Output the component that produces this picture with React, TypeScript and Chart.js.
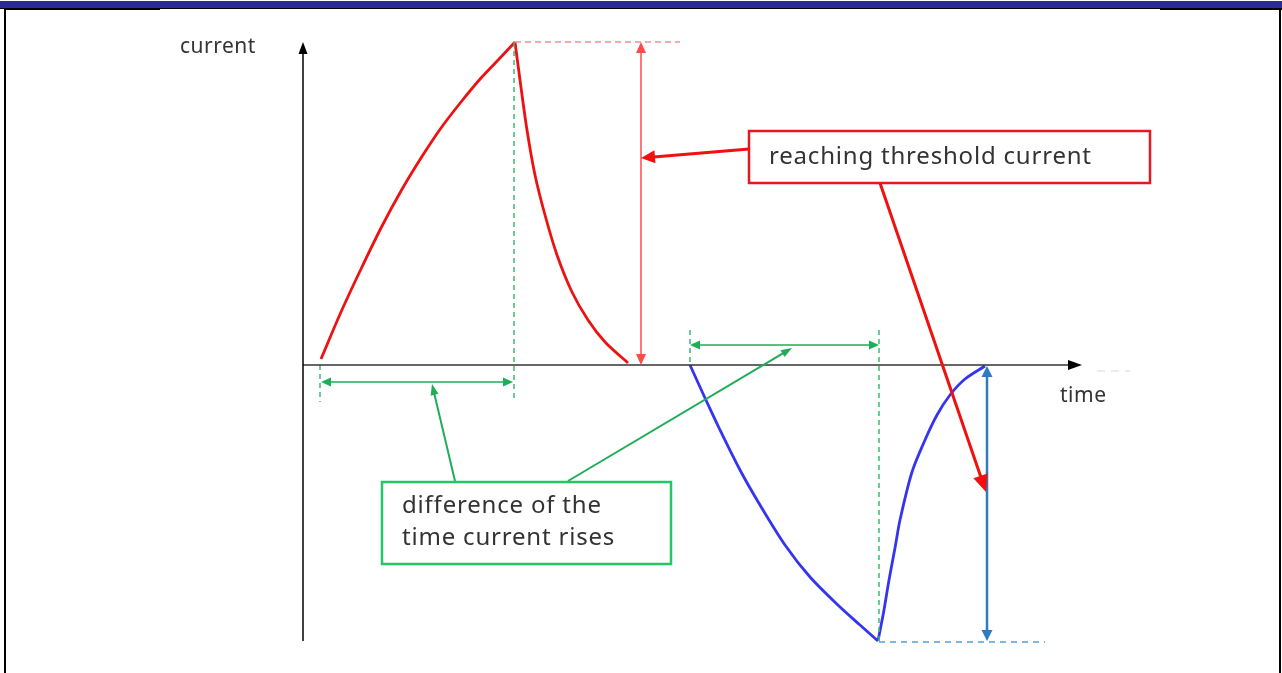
import React, { useEffect, useRef } from "react";
import { Chart, registerables } from "chart.js";
Chart.register(...registerables);

const W = 1282;
const H = 673;

// Coordinate system: t = time (right), c = current (up); origin at the axes crossing.
const T_MIN = -303;
const T_MAX = 979;
const C_MIN = -308;
const C_MAX = 365;

// Red current pulse (rise and decay)
const redRiseT = [18, 38, 58, 78, 98, 118, 138, 158, 178, 198, 212];
const redRiseC = [6, 53, 96, 137, 174, 207, 237, 263, 287, 308, 323];
const redFallT = [212, 217, 224, 232, 242, 254, 269, 285, 302, 325];
const redFallC = [323, 285, 235, 190, 150, 110, 73, 45, 23, 2];

// Blue current pulse (negative)
const blueFallT = [387, 402, 417, 437, 457, 482, 507, 537, 557, 575];
const blueFallC = [0, -33, -65, -105, -140, -180, -212, -242, -260, -276];
const blueRiseT = [575, 581, 586, 592, 597, 609, 622, 634, 647, 662, 682];
const blueRiseC = [-276, -245, -215, -183, -155, -107, -75, -50, -30, -14, -1];

// Axes extents
const axisT = [0, 779];
const axisC = [-276, 323];

// Reference levels
const redPeak = 323;
const blueMin = -277;
const redDashT = [212, 377];
const blueDashT = [576, 742];
const greyDashT = [794, 827];
const greyDashC = -6;

// Green dashed markers: [t, cFrom, cTo]
const greenMarkT = [17, 211, 387, 576];
const greenMarkFrom = [0, 323, 35, 35];
const greenMarkTo = [-37, -37, 0, -276];

// Double-headed measurement arrows
const riseSpanA = [18, 210];
const riseSpanAC = -17;
const riseSpanB = [387, 576];
const riseSpanBC = 20;
const redSpanT = 338;
const redSpanC = [0, 323];
const blueSpanT = 684;
const blueSpanC = [-276, -1];

// Pointer arrows: [t0, c0, t1, c1]
const redPointer1 = [446, 216, 338, 207];
const redPointer2 = [577, 182, 683, -127];
const greenPointer1 = [152, -116, 129, -19];
const greenPointer2 = [265, -116, 489, 17];

// Callout boxes: [tLeft, cTop, tRight, cBottom]
const redBox = [446, 234, 847, 182];
const greenBox = [79, -117, 368, -199];
const redBoxText = ["reaching threshold current"];
const greenBoxText = ["difference of the", "time current rises"];
const redTextPos = [466, 208];
const greenTextPos = [99, -141, -173];

// Axis labels
const yLabel = "current";
const yLabelPos = [-123, 318];
const xLabel = "time";
const xLabelPos = [757, -31];

const FONT = '"Noto Sans", "Open Sans", sans-serif';

function pts(t: number[], c: number[]) {
  return t.map((x, i) => ({ x, y: c[i] }));
}

function head(ctx: CanvasRenderingContext2D, x0: number, y0: number, x1: number, y1: number, len: number, wid: number, color: string) {
  const a = Math.atan2(y1 - y0, x1 - x0);
  const bx = x1 - Math.cos(a) * len;
  const by = y1 - Math.sin(a) * len;
  const nx = -Math.sin(a) * wid / 2;
  const ny = Math.cos(a) * wid / 2;
  ctx.save();
  ctx.fillStyle = color;
  ctx.beginPath();
  ctx.moveTo(x1, y1);
  ctx.lineTo(bx + nx, by + ny);
  ctx.lineTo(bx - nx, by - ny);
  ctx.closePath();
  ctx.fill();
  ctx.restore();
}

function arrow(ctx: CanvasRenderingContext2D, x0: number, y0: number, x1: number, y1: number, color: string, lw: number, len: number, wid: number, both: boolean) {
  const a = Math.atan2(y1 - y0, x1 - x0);
  const sx = both ? x0 + Math.cos(a) * len * 0.7 : x0;
  const sy = both ? y0 + Math.sin(a) * len * 0.7 : y0;
  const ex = x1 - Math.cos(a) * len * 0.7;
  const ey = y1 - Math.sin(a) * len * 0.7;
  ctx.save();
  ctx.strokeStyle = color;
  ctx.lineWidth = lw;
  ctx.beginPath();
  ctx.moveTo(sx, sy);
  ctx.lineTo(ex, ey);
  ctx.stroke();
  ctx.restore();
  head(ctx, x0, y0, x1, y1, len, wid, color);
  if (both) head(ctx, x1, y1, x0, y0, len, wid, color);
}

const framePlugin = {
  id: "frame",
  beforeDraw(chart: any) {
    const ctx = chart.ctx as CanvasRenderingContext2D;
    ctx.save();
    ctx.fillStyle = "#ffffff";
    ctx.fillRect(0, 0, W, H);
    ctx.fillStyle = "#2b2b95";
    ctx.fillRect(0, 1, W, 7);
    ctx.fillStyle = "#000000";
    ctx.fillRect(0, 8, W, 1);
    ctx.fillRect(4, 8, 156, 2);
    ctx.fillRect(1160, 8, 122, 2);
    ctx.fillRect(4, 8, 2, H - 8);
    ctx.fillRect(1279, 8, 2, H - 8);
    ctx.restore();
  },
};

const notesPlugin = {
  id: "notes",
  afterDatasetsDraw(chart: any) {
    const ctx = chart.ctx as CanvasRenderingContext2D;
    const xs = chart.scales.x;
    const ys = chart.scales.y;
    const X = (v: number) => xs.getPixelForValue(v);
    const Y = (v: number) => ys.getPixelForValue(v);

    head(ctx, X(0), Y(axisC[0]), X(0), Y(axisC[1]), 12, 9, "#000");
    head(ctx, X(axisT[0]), Y(0), X(axisT[1]), Y(0), 14, 10, "#000");

    arrow(ctx, X(redSpanT), Y(redSpanC[1]), X(redSpanT), Y(redSpanC[0]), "#ff4a4a", 1.5, 11, 10, true);
    arrow(ctx, X(riseSpanA[0]), Y(riseSpanAC), X(riseSpanA[1]), Y(riseSpanAC), "#1fad58", 1.5, 10, 9, true);
    arrow(ctx, X(riseSpanB[0]), Y(riseSpanBC), X(riseSpanB[1]), Y(riseSpanBC), "#1fad58", 1.5, 10, 9, true);
    arrow(ctx, X(blueSpanT), Y(blueSpanC[0]), X(blueSpanT), Y(blueSpanC[1]), "#2e7bc0", 2.5, 11, 11, true);

    const P = (p: number[], col: string, lw: number, len: number, wid: number) =>
      arrow(ctx, X(p[0]), Y(p[1]), X(p[2]), Y(p[3]), col, lw, len, wid, false);
    P(redPointer1, "#f01010", 3, 14, 13);
    P(redPointer2, "#f01010", 3, 17, 15);
    P(greenPointer1, "#1fad58", 2, 11, 8);
    P(greenPointer2, "#1fad58", 2, 11, 8);

    const box = (b: number[], col: string) => {
      const x0 = X(b[0]), y0 = Y(b[1]), x1 = X(b[2]), y1 = Y(b[3]);
      ctx.save();
      ctx.fillStyle = "#fff";
      ctx.fillRect(x0, y0, x1 - x0, y1 - y0);
      ctx.strokeStyle = col;
      ctx.lineWidth = 2.5;
      ctx.strokeRect(x0, y0, x1 - x0, y1 - y0);
      ctx.restore();
    };
    box(redBox, "#e51820");
    box(greenBox, "#22c866");

    ctx.save();
    ctx.fillStyle = "#333";
    ctx.textBaseline = "middle";
    ctx.textAlign = "left";
    ctx.font = `24px ${FONT}`;
    (ctx as any).letterSpacing = "0.8px";
    ctx.fillText(redBoxText[0], X(redTextPos[0]), Y(redTextPos[1]));
    ctx.fillText(greenBoxText[0], X(greenTextPos[0]), Y(greenTextPos[1]));
    ctx.fillText(greenBoxText[1], X(greenTextPos[0]), Y(greenTextPos[2]));
    ctx.font = `21px ${FONT}`;
    (ctx as any).letterSpacing = "0.5px";
    ctx.fillText(yLabel, X(yLabelPos[0]), Y(yLabelPos[1]));
    ctx.fillText(xLabel, X(xLabelPos[0]), Y(xLabelPos[1]));
    ctx.restore();
  },
};

export default function App() {
  const ref = useRef<HTMLCanvasElement | null>(null);
  useEffect(() => {
    document.body.style.margin = "0";
    const canvas = ref.current;
    if (!canvas) return;
    const curve = (t: number[], c: number[], color: string) => ({
      data: pts(t, c),
      showLine: true,
      borderColor: color,
      borderWidth: 2.8,
      pointRadius: 0,
      tension: 0.3,
      fill: false,
    });
    const seg = (p: { x: number; y: number }[], color: string, lw: number, dash: number[]) => ({
      data: p,
      showLine: true,
      borderColor: color,
      borderWidth: lw,
      borderDash: dash,
      pointRadius: 0,
      tension: 0,
      fill: false,
    });
    const datasets: any[] = [
      seg([{ x: 0, y: axisC[0] }, { x: 0, y: axisC[1] - 8 }], "#000", 1.5, []),
      seg([{ x: axisT[0], y: 0 }, { x: axisT[1] - 8, y: 0 }], "#333", 1.5, []),
      seg([{ x: redDashT[0], y: redPeak }, { x: redDashT[1], y: redPeak }], "#f29090", 1.5, [6, 4]),
      seg([{ x: blueDashT[0], y: blueMin }, { x: blueDashT[1], y: blueMin }], "#5b9bd5", 1.5, [6, 5]),
      seg([{ x: greyDashT[0], y: greyDashC }, { x: greyDashT[1], y: greyDashC }], "#d8d8d8", 1, [8, 6]),
      ...greenMarkT.map((t, i) =>
        seg([{ x: t, y: greenMarkFrom[i] }, { x: t, y: greenMarkTo[i] }], "#3dbb70", 1.5, [5, 4])
      ),
      curve(blueFallT, blueFallC, "#3535f0"),
      curve(blueRiseT, blueRiseC, "#3535f0"),
      curve(redRiseT, redRiseC, "#ee1111"),
      curve(redFallT, redFallC, "#ee1111"),
    ];
    const chart = new Chart(canvas, {
      type: "scatter",
      data: { datasets },
      options: {
        animation: false,
        responsive: false,
        devicePixelRatio: 1,
        layout: { padding: 0 },
        plugins: { legend: { display: false }, tooltip: { enabled: false } },
        events: [],
        scales: {
          x: { type: "linear", min: T_MIN, max: T_MAX, display: false },
          y: { type: "linear", min: C_MIN, max: C_MAX, display: false },
        },
      },
      plugins: [framePlugin, notesPlugin],
    });
    return () => chart.destroy();
  }, []);
  return (
    <div style={{ position: "absolute", left: 0, top: 0, width: W, height: H }}>
      <canvas ref={ref} width={W} height={H} style={{ display: "block" }} />
    </div>
  );
}
